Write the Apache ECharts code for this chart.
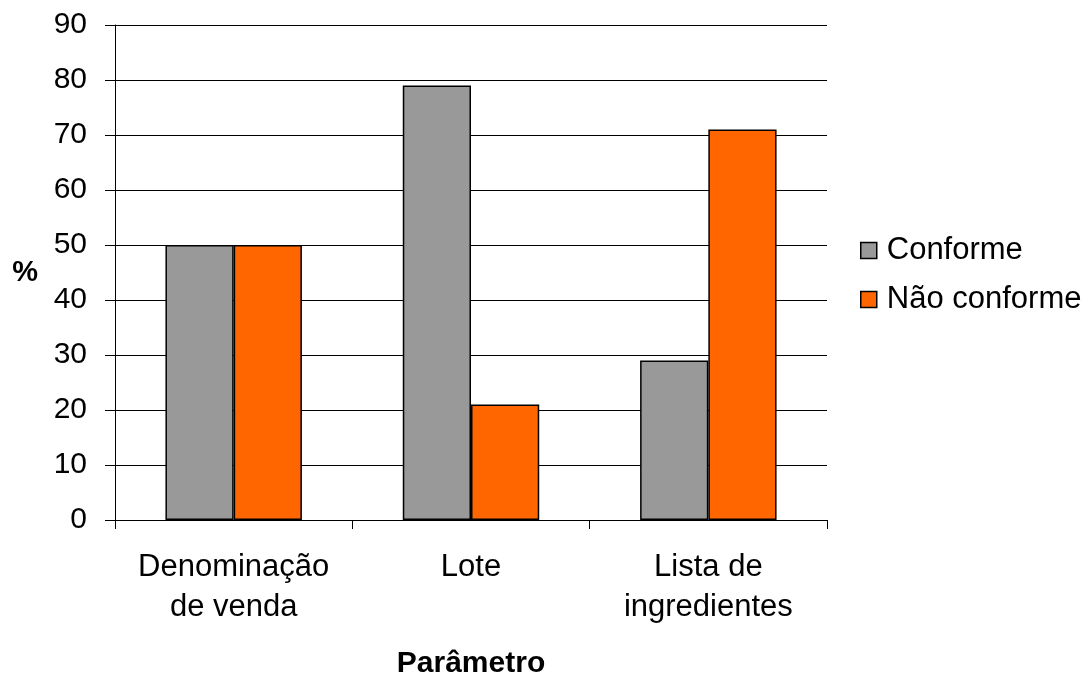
<!DOCTYPE html>
<html>
<head>
<meta charset="utf-8">
<script src="https://cdn.jsdelivr.net/npm/echarts@6/dist/echarts.min.js"></script>
<style>
  html, body { margin: 0; padding: 0; background: #fff; }
  #chart { width: 1086px; height: 673px; }
</style>
</head>
<body>
<div id="chart"></div>
<script>
// Parameters evaluated on the labels (%)
const categories = ['Denominação\nde venda', 'Lote', 'Lista de\ningredientes'];
const conforme = [50, 79, 29];
const naoConforme = [50, 21, 71];
const seriesNames = ['Conforme', 'Não conforme'];

const font = '"Liberation Sans", Arial, sans-serif';
const chart = echarts.init(document.getElementById('chart'), null, { renderer: 'canvas' });

chart.setOption({
  animation: false,
  backgroundColor: '#ffffff',
  textStyle: { fontFamily: font, color: '#000' },
  grid: { left: 115, right: 259, top: 25, bottom: 153, containLabel: false, outerBoundsMode: 'none' },
  legend: {
    orient: 'vertical',
    left: 855,
    top: 230,
    itemWidth: 16,
    itemHeight: 16,
    itemGap: 18,
    icon: 'rect',
    itemStyle: { borderColor: '#000', borderWidth: 1.5 },
    textStyle: { fontFamily: font, fontSize: 31, color: '#000', padding: [0, 0, 0, 5] },
    data: seriesNames
  },
  xAxis: {
    type: 'category',
    data: categories,
    name: 'Parâmetro',
    nameLocation: 'middle',
    nameGap: 129,
    nameTextStyle: { fontFamily: font, fontSize: 30, fontWeight: 'bold', color: '#000' },
    axisLine: { lineStyle: { color: '#000', width: 1 } },
    axisTick: { show: true, length: 9, lineStyle: { color: '#000' } },
    axisLabel: { fontFamily: font, fontSize: 31, color: '#000', margin: 27, lineHeight: 40, interval: 0 }
  },
  yAxis: {
    type: 'value',
    min: 0,
    max: 90,
    interval: 10,
    name: '%',
    nameLocation: 'middle',
    nameRotate: 0,
    nameGap: 77,
    nameTextStyle: { fontFamily: font, fontSize: 29, fontWeight: 'bold', color: '#000' },
    axisLine: { show: true, lineStyle: { color: '#000', width: 1 } },
    axisTick: { show: true, length: 10, lineStyle: { color: '#000' } },
    axisLabel: { fontFamily: font, fontSize: 30, color: '#000', margin: 28 },
    splitLine: { show: true, lineStyle: { color: '#000', width: 1 } }
  },
  series: [
    {
      name: seriesNames[0],
      type: 'bar',
      data: conforme,
      barGap: '0%',
      barCategoryGap: '42.5%',
      itemStyle: { color: '#999999', borderColor: '#000', borderWidth: 1.5 }
    },
    {
      name: seriesNames[1],
      type: 'bar',
      data: naoConforme,
      barGap: '0%',
      barCategoryGap: '42.5%',
      itemStyle: { color: '#FF6600', borderColor: '#000', borderWidth: 1.5 }
    }
  ]
});
</script>
</body>
</html>
